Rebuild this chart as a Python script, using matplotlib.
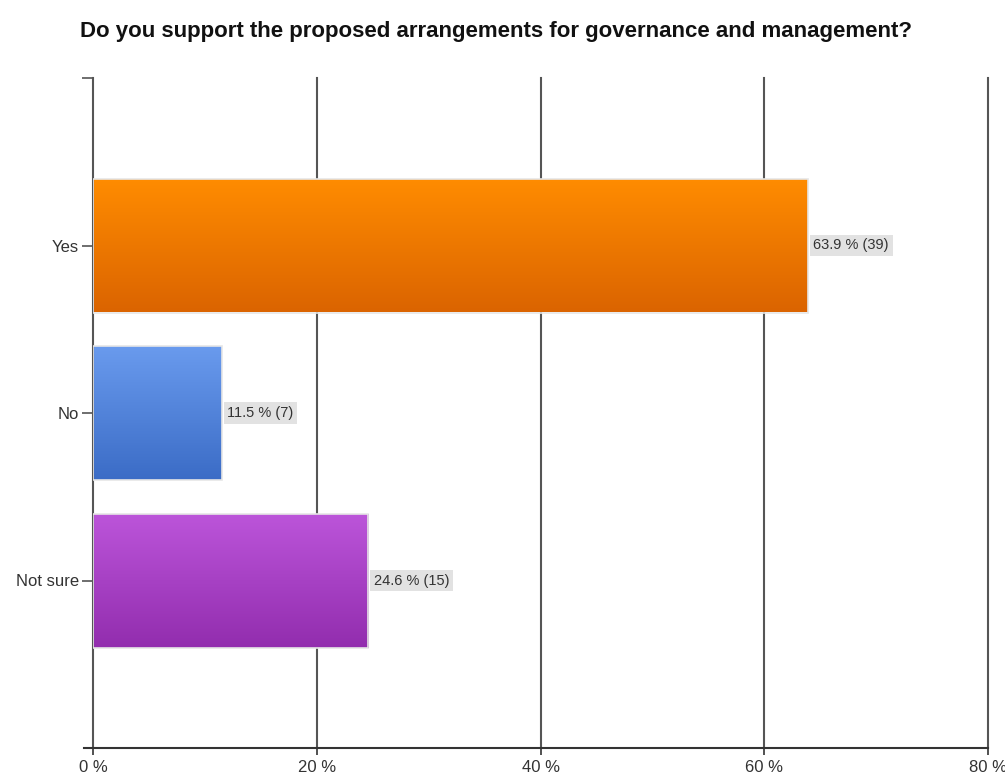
import numpy as np
import matplotlib
matplotlib.use("Agg")
import matplotlib.pyplot as plt
from matplotlib.colors import LinearSegmentedColormap

# -------------------------------------
# Survey results
# -------------------------------------
answers = ["Yes", "No", "Not sure"]
percents = [63.9, 11.5, 24.6]
counts = [39, 7, 15]
x_ticks = [0, 20, 40, 60, 80]

# gradient (top colour, bottom colour) per answer
bar_colors = [("#FF8C00", "#DB6400"),
              ("#6A9BEE", "#3B6CC6"),
              ("#BC55DA", "#922DAE")]

narrow = ["Liberation Sans Narrow", "Liberation Sans", "DejaVu Sans"]

fig = plt.figure(figsize=(10.05, 7.78), dpi=100)
ax = fig.add_axes([93 / 1005, 30 / 778, 895 / 1005, 670 / 778])

positions = np.arange(1, len(answers) + 1)
ax.set_xlim(0, 80)
ax.set_ylim(4, 0)

# grid lines behind the bars
for t in x_ticks[1:]:
    ax.axvline(t, color="#555555", lw=1.5, zorder=1, clip_on=False)

bars = ax.barh(positions, percents, height=0.8, color="none",
               edgecolor="#e6e6e6", lw=1.2, zorder=3)

grad = np.linspace(0, 1, 256).reshape(-1, 1)
for bar, (top, bottom) in zip(bars, bar_colors):
    cmap = LinearSegmentedColormap.from_list("g", [top, bottom])
    x0, y0 = bar.get_x(), bar.get_y()
    w, h = bar.get_width(), bar.get_height()
    im = ax.imshow(grad, cmap=cmap, aspect="auto", origin="upper",
                   extent=(x0, x0 + w, y0 + h, y0), zorder=2,
                   interpolation="bilinear")
    im.set_clip_path(bar)

ax.set_xlim(0, 80)
ax.set_ylim(4, 0)

# value labels on a grey tag
for pos, pct, n in zip(positions, percents, counts):
    ax.text(pct + 0.5, pos, f"{pct:.1f} % ({n})", va="center", ha="left",
            fontsize=10.5, family=narrow, color="#333333", zorder=4,
            bbox=dict(boxstyle="square,pad=0.25", fc="#e2e2e2", ec="none"))

# axes styling
for side in ["top", "right"]:
    ax.spines[side].set_visible(False)
ax.spines["left"].set_color("#555555")
ax.spines["left"].set_linewidth(1.5)
ax.spines["bottom"].set_color("#333333")
ax.spines["bottom"].set_linewidth(1.5)
ax.spines["bottom"].set_bounds(-0.8, 80)
ax.spines["left"].set_bounds(0, 4)

ax.set_yticks(list(positions) + [0])
ax.set_yticklabels(answers + [""], fontsize=12, family=narrow, color="#333333")
ax.set_xticks(x_ticks)
ax.set_xticklabels([f"{t} %" for t in x_ticks], fontsize=12, family=narrow,
                   color="#333333")
ax.tick_params(axis="y", length=8, width=1.2, color="#555555", pad=2)
ax.tick_params(axis="x", length=5, width=1.2, color="#333333", pad=4)

fig.text(496 / 1005, 1 - 31 / 778,
         "Do you support the proposed arrangements for governance and management?",
         ha="center", va="center", fontsize=16, fontweight="bold",
         family=["Liberation Sans", "DejaVu Sans"], color="#111111")

fig.savefig("out.png", dpi=100, facecolor="white")
